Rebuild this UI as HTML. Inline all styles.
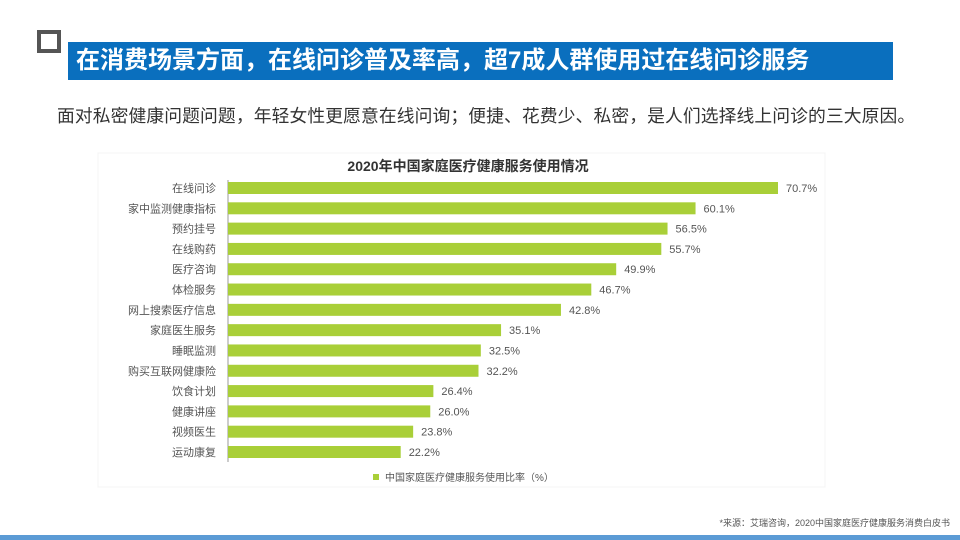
<!DOCTYPE html>
<html><head><meta charset="utf-8"><style>
body{margin:0;width:960px;height:540px;background:#fff;position:relative;overflow:hidden;font-family:"Liberation Sans","Noto Sans CJK SC",sans-serif}
.sq{position:absolute;left:37px;top:30px;width:16px;height:15px;border:4px solid #555}
.tb{position:absolute;left:68px;top:42px;width:825px;height:38px;background:#0a6fbe;color:#fff;font-weight:bold;font-size:24px;line-height:38px;padding-left:8px;box-sizing:border-box}
.sub{position:absolute;left:57px;top:102px;font-size:17.8px;color:#333;letter-spacing:0.1px}
.src{position:absolute;right:10px;top:516px;font-size:9px;color:#555}
.bl{position:absolute;left:0;top:535px;width:960px;height:5px;background:#5b9bd5}
</style></head><body>
<div class="sq"></div>
<div class="tb">在消费场景方面，在线问诊普及率高，超7成人群使用过在线问诊服务</div>
<div class="sub">面对私密健康问题问题，年轻女性更愿意在线问询；便捷、花费少、私密，是人们选择线上问诊的三大原因。</div>
<svg id="chart" width="960" height="540" style="position:absolute;left:0;top:0">
<rect x="98" y="153" width="727" height="334" fill="#fff" stroke="#f4f4f4"/>
<text x="468" y="171" text-anchor="middle" font-size="14" font-weight="bold" fill="#333">2020年中国家庭医疗健康服务使用情况</text>
<line x1="228" y1="180" x2="228" y2="462" stroke="#999"/>
<rect x="373" y="474" width="6" height="6" fill="#a9cf38"/>
<text x="385" y="481" font-size="10" fill="#555">中国家庭医疗健康服务使用比率（%）</text>
</svg>
<div class="src">*来源：艾瑞咨询，2020中国家庭医疗健康服务消费白皮书</div>
<div class="bl"></div>
<script>
const categories=["在线问诊","家中监测健康指标","预约挂号","在线购药","医疗咨询","体检服务","网上搜索医疗信息","家庭医生服务","睡眠监测","购买互联网健康险","饮食计划","健康讲座","视频医生","运动康复"];
const values=[70.7,60.1,56.5,55.7,49.9,46.7,42.8,35.1,32.5,32.2,26.4,26.0,23.8,22.2];
const NS="http://www.w3.org/2000/svg";
const svg=document.getElementById('chart');
const x=v=>228+v*(550/70.7);
const y=i=>188+i*(264/(categories.length-1));
categories.forEach((c,i)=>{
 const r=document.createElementNS(NS,'rect');
 r.setAttribute('x',228);r.setAttribute('y',y(i)-6);r.setAttribute('width',x(values[i])-228);r.setAttribute('height',12);r.setAttribute('fill','#a9cf38');
 
 
 svg.appendChild(r);
 const t=document.createElementNS(NS,'text');
 t.setAttribute('x',216);t.setAttribute('y',y(i)+4);t.setAttribute('text-anchor','end');t.setAttribute('font-size','11');t.setAttribute('fill','#555');t.textContent=c;
 
 
 svg.appendChild(t);
 const v=document.createElementNS(NS,'text');
 v.setAttribute('x',x(values[i])+8);v.setAttribute('y',y(i)+4);v.setAttribute('font-size','11');v.setAttribute('fill','#555');v.textContent=values[i].toFixed(1)+'%';
 
 
 svg.appendChild(v);
});
</script>
</body></html>
